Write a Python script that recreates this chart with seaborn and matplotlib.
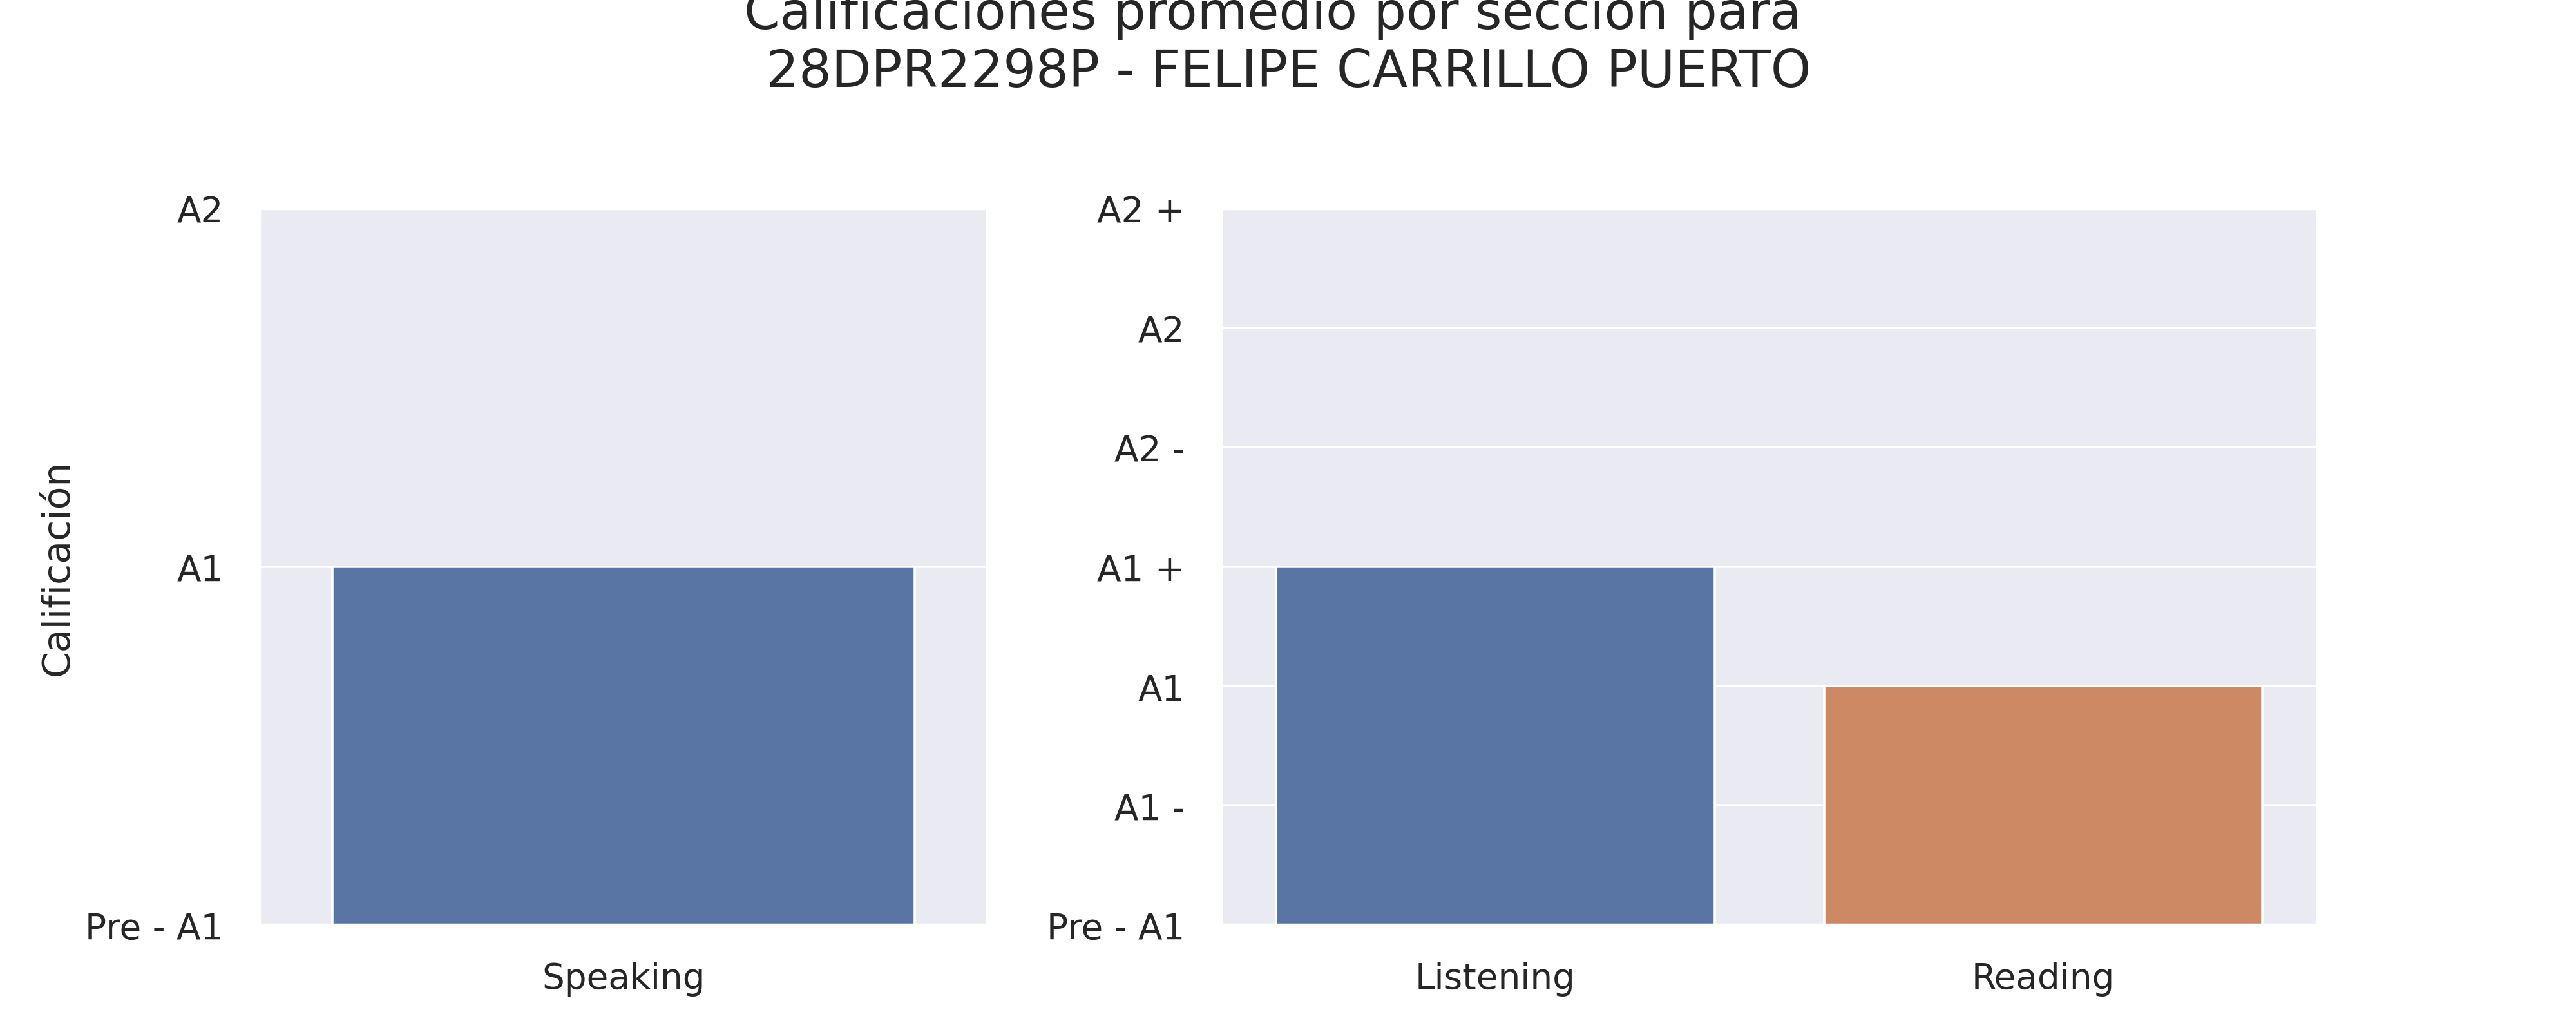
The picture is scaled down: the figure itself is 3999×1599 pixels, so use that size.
import matplotlib
matplotlib.use("Agg")
import matplotlib.pyplot as plt
import seaborn as sns
import pandas as pd

sns.set_theme(style="darkgrid")

left_secciones = ["Speaking"]
left_valores = [1]
left_niveles = ["Pre - A1", "A1", "A2"]

right_secciones = ["Listening", "Reading"]
right_valores = [3, 2]
right_niveles = ["Pre - A1", "A1 -", "A1", "A1 +", "A2 -", "A2", "A2 +"]

colores = sns.color_palette("deep")

fig = plt.figure(figsize=(15.68, 6.272), dpi=255.1)
ax1 = fig.add_axes([0.1008, 0.102, 0.2825, 0.695])
ax2 = fig.add_axes([0.474, 0.102, 0.4254, 0.695])

df1 = pd.DataFrame({"seccion": left_secciones, "valor": left_valores})
sns.barplot(data=df1, x="seccion", y="valor", hue="seccion",
            palette=[colores[0]], ax=ax1, legend=False, width=0.8)
ax1.set_ylim(0, len(left_niveles) - 1)
ax1.set_yticks(range(len(left_niveles)))
ax1.set_yticklabels(left_niveles)
ax1.set_xlabel("")
ax1.set_ylabel("Calificación", fontsize=16.5)

df2 = pd.DataFrame({"seccion": right_secciones, "valor": right_valores})
sns.barplot(data=df2, x="seccion", y="valor", hue="seccion",
            palette=colores[:2], ax=ax2, legend=False, width=0.8)
ax2.set_ylim(0, len(right_niveles) - 1)
ax2.set_yticks(range(len(right_niveles)))
ax2.set_yticklabels(right_niveles)
ax2.set_xlabel("")
ax2.set_ylabel("")

for ax in (ax1, ax2):
    ax.tick_params(labelsize=15.5, pad=10)
    for b in ax.patches:
        b.set_edgecolor("white")

fig.suptitle("Calificaciones promedio por sección para \n 28DPR2298P - FELIPE CARRILLO PUERTO",
             fontsize=22.5, x=0.497, y=0.905, va="bottom")

fig.savefig("out.png")
